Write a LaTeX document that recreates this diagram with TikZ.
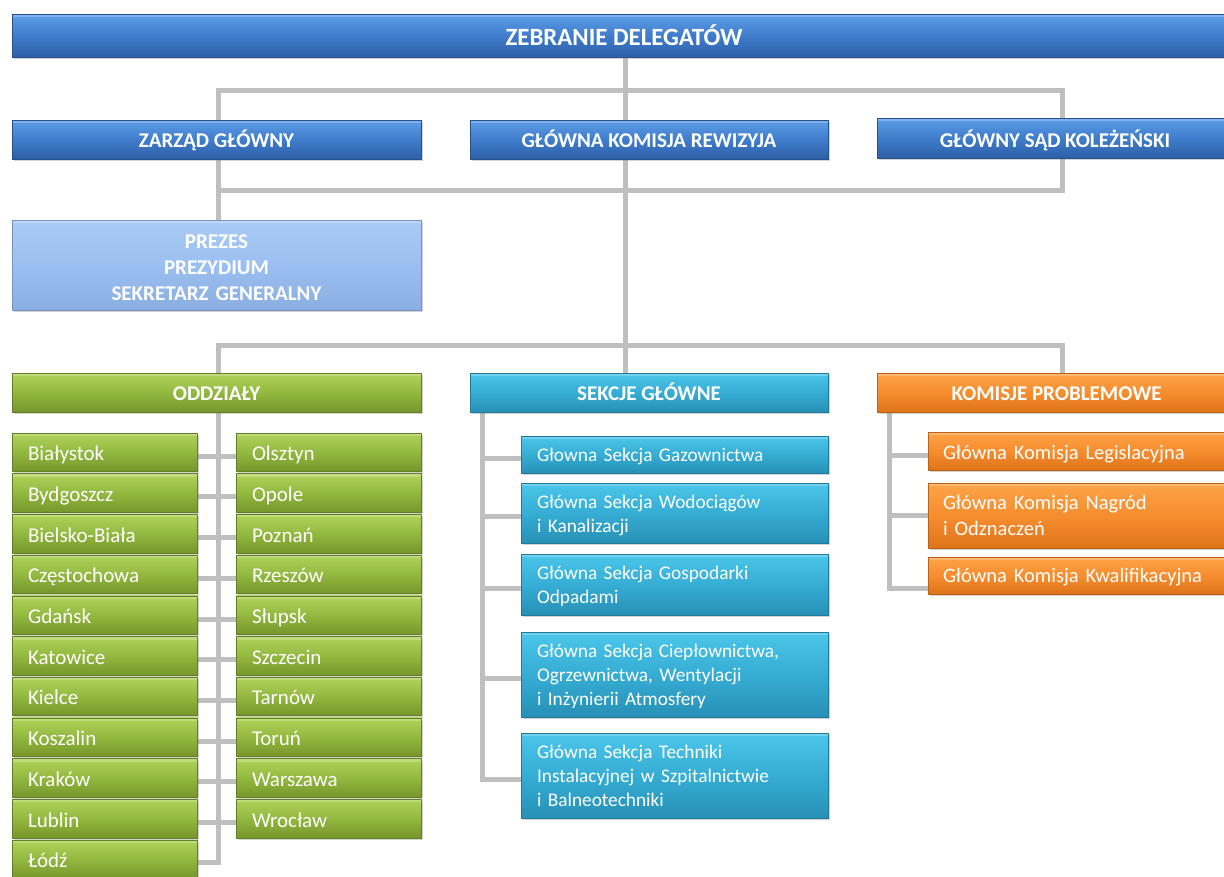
\documentclass[tikz,border=0pt]{standalone}
\usepackage{fontspec}
\setmainfont{Carlito}
\usetikzlibrary{shadows,backgrounds}
\definecolor{bTop}{HTML}{5E9DE6}
\definecolor{bMid}{HTML}{3F7DCC}
\definecolor{bBot}{HTML}{2E5FA6}
\definecolor{lTop}{HTML}{A9CBF6}
\definecolor{lMid}{HTML}{9BBFF0}
\definecolor{lBot}{HTML}{8AAEE0}
\definecolor{gTop}{HTML}{B0D35A}
\definecolor{gMid}{HTML}{93B840}
\definecolor{gBot}{HTML}{76962A}
\definecolor{cTop}{HTML}{4CC6EA}
\definecolor{cMid}{HTML}{36ADD4}
\definecolor{cBot}{HTML}{2790B6}
\definecolor{oTop}{HTML}{FDA448}
\definecolor{oMid}{HTML}{F68D2E}
\definecolor{oBot}{HTML}{DE7419}
\definecolor{connC}{HTML}{BFBFBF}
\tikzset{
  basebox/.style={rectangle, inner sep=0pt, outer sep=0pt, text=white,
    drop shadow={opacity=0.35, shadow xshift=1.5pt, shadow yshift=-2pt},
    path picture={\fill[white, opacity=0.22] (path picture bounding box.north west) rectangle ([yshift=-3pt]path picture bounding box.north east);}},
  hdr/.style={text height=16pt, text depth=0pt, font=\fontsize{21}{25}\selectfont\bfseries},
  bluebox/.style={basebox, hdr, top color=bTop, bottom color=bBot, middle color=bMid, draw=bBot!85!black, line width=0.5pt},
  lightbox/.style={basebox, top color=lTop, bottom color=lBot, middle color=lMid, draw=lBot!85!black, line width=0.5pt,
    font=\fontsize{21}{26}\selectfont\bfseries, text width=409pt, align=center, text height=15pt, text depth=48.4pt},
  greenhdr/.style={basebox, hdr, top color=gTop, bottom color=gBot, middle color=gMid, draw=gBot!85!black, line width=0.5pt},
  cyanhdr/.style={basebox, hdr, top color=cTop, bottom color=cBot, middle color=cMid, draw=cBot!85!black, line width=0.5pt},
  orangehdr/.style={basebox, hdr, top color=oTop, bottom color=oBot, middle color=oMid, draw=oBot!85!black, line width=0.5pt},
  citybox/.style={basebox, top color=gTop, bottom color=gBot, middle color=gMid, draw=gBot!85!black, line width=0.5pt,
    font=\fontsize{21}{24}\selectfont, minimum height=38.5pt, text width=153pt, inner xsep=16pt, align=left,
    text height=17pt, text depth=0pt},
  secbox/.style={basebox, top color=cTop, bottom color=cBot, middle color=cMid, draw=cBot!85!black, line width=0.5pt,
    font=\fontsize{19.3}{24}\selectfont, text width=275pt, inner xsep=16pt, align=left, text height=15pt},
  kombox/.style={basebox, top color=oTop, bottom color=oBot, middle color=oMid, draw=oBot!85!black, line width=0.5pt,
    font=\fontsize{20.5}{26}\selectfont, text width=282pt, inner xsep=15pt, align=left, text height=15pt},
  conn/.style={draw=connC, line width=5pt, line join=miter}
}
\begin{document}
\begin{tikzpicture}[x=1pt,y=-1pt]
\useasboundingbox (0,0) rectangle (1224,876);
\clip (0,0) rectangle (1224,876);
% junction coordinates
\coordinate (j1) at (625,90);
\coordinate (j3) at (625,345);
\coordinate (l1) at (218,90);
\coordinate (r1) at (1062,90);
\coordinate (l2) at (218,190);
\coordinate (r2) at (1062,190);
\coordinate (l3) at (218,345);
\coordinate (r3) at (1062,345);
\coordinate (sv) at (482,0);
\coordinate (kv) at (889,0);
\coordinate (kb) at (889,588);

% top levels
\node[bluebox, minimum width=1224pt, minimum height=43pt, font=\fontsize{24.8}{28}\selectfont\bfseries, text height=19pt] (title) at (624,35.5) {ZEBRANIE DELEGATÓW};
\node[bluebox, minimum width=409pt, minimum height=39pt] (zg) at (216.5,139.5) {ZARZĄD GŁÓWNY};
\node[bluebox, minimum width=358pt, minimum height=39pt, text height=15pt] (gkr) at (649,139.5) {GŁÓWNA KOMISJA REWIZYJA};
\node[bluebox, minimum width=356pt, minimum height=40pt, text height=18pt] (gsk) at (1055,138) {GŁÓWNY SĄD KOLEŻEŃSKI};
\node[lightbox, minimum height=90pt] (prez) at (216.5,265) {PREZES\\PREZYDIUM\\SEKRETARZ GENERALNY};

% third level headers
\node[greenhdr, minimum width=409pt, minimum height=39pt] (odd) at (216.5,392.5) {ODDZIAŁY};
\node[cyanhdr, minimum width=358pt, minimum height=39pt] (sek) at (649,392.5) {SEKCJE GŁÓWNE};
\node[orangehdr, minimum width=359pt, minimum height=39pt] (kom) at (1056.5,392.5) {KOMISJE PROBLEMOWE};

% cities
\foreach \name [count=\i from 0] in {Białystok,Bydgoszcz,Bielsko-Biała,Częstochowa,Gdańsk,Katowice,Kielce,Koszalin,Kraków,Lublin,Łódź}
  \node[citybox] (cl\i) at (104.5,{452.25+40.7*\i}) {\name};
\foreach \name [count=\i from 0] in {Olsztyn,Opole,Poznań,Rzeszów,Słupsk,Szczecin,Tarnów,Toruń,Warszawa,Wrocław}
  \node[citybox] (cr\i) at (328.5,{452.25+40.7*\i}) {\name};

% sections
\node[secbox, minimum height=37pt, text depth=1pt] (s1) at (674.5,454.5) {Głowna Sekcja Gazownictwa};
\node[secbox, minimum height=60pt, text depth=25pt] (s2) at (674.5,513) {Główna Sekcja Wodociągów\\i Kanalizacji};
\node[secbox, minimum height=61pt, text depth=25pt] (s3) at (674.5,584.5) {Główna Sekcja Gospodarki\\Odpadami};
\node[secbox, minimum height=85pt, text depth=49pt] (s4) at (674.5,674.5) {Główna Sekcja Ciepłownictwa,\\Ogrzewnictwa, Wentylacji\\i Inżynierii Atmosfery};
\node[secbox, minimum height=85pt, text depth=49pt] (s5) at (674.5,775.5) {Główna Sekcja Techniki\\Instalacyjnej w Szpitalnictwie\\i Balneotechniki};

% commissions
\node[kombox, minimum height=38pt, text height=16pt, text depth=0pt] (k1) at (1084,451) {Główna Komisja Legislacyjna};
\node[kombox, minimum height=65pt, text depth=27pt] (k2) at (1084,515.5) {Główna Komisja Nagród\\i Odznaczeń};
\node[kombox, minimum height=37pt, text depth=1pt] (k3) at (1084,575.5) {Główna Komisja Kwalifikacyjna};

\begin{pgfonlayer}{background}
\fill[white] (0,0) rectangle (1224,876);
\draw[conn] (l1 |- zg.north) -- (l1) -- (r1) -- (r1 |- gsk.north);
\draw[conn] (l2 |- zg.south) -- (l2) -- (r2) -- (r2 |- gsk.south);
\draw[conn] (l2) -- (l2 |- prez.north);
\draw[conn] (title.south -| j1) -- (j3);
\draw[conn] (l3 |- odd.north) -- (l3) -- (r3) -- (r3 |- kom.north);
\draw[conn] (j3) -- (j3 |- sek.north);
% oddzialy
\draw[conn] (odd.south -| l3) |- ([yshift=-3pt]cl10.east);
\foreach \i in {0,...,9}
  \draw[conn] ([yshift=-4pt]cl\i.east) -- ([yshift=-4pt]cr\i.west);
% sekcje
\draw[conn] (sek.south -| sv) |- ([yshift=-4pt]s5.west);
\foreach \s in {s1,s2,s3,s4}
  \draw[conn] ([yshift=-3.5pt]\s.west -| sv) -- ([yshift=-3.5pt]\s.west);
% komisje
\draw[conn] (kom.south -| kv) -- (kb) -- (kb -| k3.west);
\draw[conn] ([yshift=-4pt]k1.west -| kv) -- ([yshift=-4pt]k1.west);
\draw[conn] (k2.west -| kv) -- (k2.west);
\end{pgfonlayer}
\end{tikzpicture}
\end{document}
